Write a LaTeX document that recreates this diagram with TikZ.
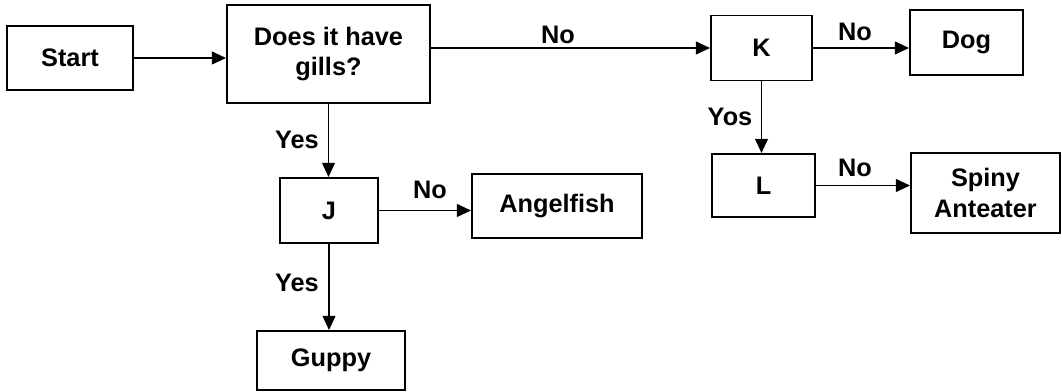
\documentclass[tikz,border=0pt]{standalone}
\usepackage{fontspec}
\setmainfont{Liberation Sans}
\usetikzlibrary{arrows.meta}

\begin{document}
\begin{tikzpicture}[x=0.025cm, y=-0.025cm,
        font=\bfseries\fontsize{18}{22}\selectfont,
        box/.style={draw, line width=1.4pt, inner sep=0pt, align=center},
        link/.style={line width=1.4pt, -{Triangle[length=10pt, width=9pt]}},
        lbl/.style={inner sep=1pt}]
        \useasboundingbox (0,0) rectangle (1062,392);

        \node[box, minimum width=126*0.025cm, minimum height=64*0.025cm] (start) at (70, 58) {Start};
        \node[box, minimum width=203*0.025cm, minimum height=98*0.025cm] (gills) at (328.5, 54) {Does it have\\gills?};
        \node[box, minimum width=101*0.025cm, minimum height=65*0.025cm] (K) at (761.5, 48) {K};
        \node[box, minimum width=113*0.025cm, minimum height=65*0.025cm] (dog) at (966.5, 42.5) {Dog};
        \node[box, minimum width=98*0.025cm, minimum height=65*0.025cm] (J) at (329, 210.5) {J};
        \node[box, minimum width=170*0.025cm, minimum height=64*0.025cm] (angel) at (557, 206) {Angelfish};
        \node[box, minimum width=103*0.025cm, minimum height=63*0.025cm] (L) at (763.5, 185.5) {L};
        \node[box, minimum width=149*0.025cm, minimum height=80*0.025cm] (spiny) at (985.5, 193) {Spiny\\Anteater};
        \node[box, minimum width=148*0.025cm, minimum height=59*0.025cm] (guppy) at (331, 360.5) {Guppy};

        \draw[link] (start.east |- 0,58) -- (gills.west |- 0,58);
        \draw[link] (gills.east |- K) -- (K.west);
        \draw[link] (K.east) -- (K -| dog.west);
        \draw[link] (K.south) -- (K |- L.north);
        \draw[link] (L.east) -- (L -| spiny.west);
        \draw[link] (gills.south) -- (gills |- J.north);
        \draw[link] (J.east) -- (J -| angel.west);
        \draw[link] (J.south) -- (J |- guppy.north);

        \node[lbl] (no1) at (558, 35) {No};
        \node[lbl] (no2) at (855, 32) {No};
        \node[lbl] (yes3) at (730, 117) {Yos};
        \node[lbl] (no4) at (855, 168) {No};
        \node[lbl] (yes1) at (297, 140) {Yes};
        \node[lbl] (no3) at (430, 190) {No};
        \node[lbl] (yes2) at (297, 283) {Yes};

    \end{tikzpicture}
\end{document}
